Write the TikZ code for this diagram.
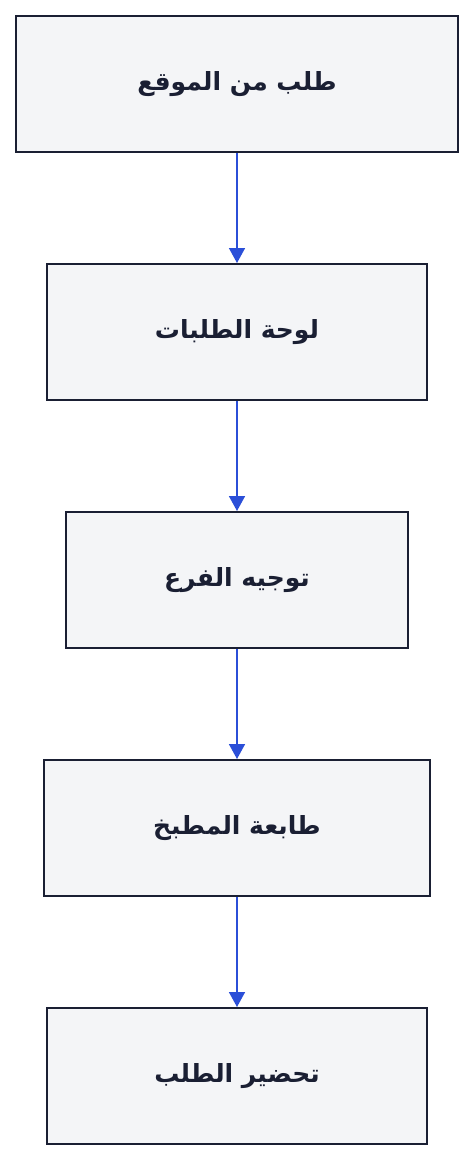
\documentclass[tikz,border=0pt]{standalone}
\usepackage{fontspec}
\TeXXeTstate=1
\newfontfamily\arabicfont[Script=Arabic]{DejaVu Sans}
\usetikzlibrary{arrows.meta}
\definecolor{boxfill}{HTML}{F4F5F7}
\definecolor{boxdraw}{HTML}{1A1F33}
\definecolor{arrowblue}{HTML}{2B4FD8}
\tikzset{
  stepbox/.style={draw=boxdraw, line width=2pt, fill=boxfill, minimum height=136pt, inner sep=0pt,
    font=\arabicfont\bfseries\fontsize{25}{30}\selectfont, text=boxdraw},
  flow/.style={draw=arrowblue, line width=1.6pt, -{Triangle[length=15pt,width=16pt]}}
}
\begin{document}
\begin{tikzpicture}[x=1pt,y=-1pt]
\useasboundingbox[fill=white] (0,0) rectangle (474,1160);
\node[stepbox, minimum width=442pt] (a) at (237,84) {\beginR طلب من الموقع\endR};
\node[stepbox, minimum width=380pt] (b) at (237,332) {\beginR لوحة الطلبات\endR};
\node[stepbox, minimum width=342pt] (c) at (237,580) {\beginR توجيه الفرع\endR};
\node[stepbox, minimum width=386pt] (d) at (237,828) {\beginR طابعة المطبخ\endR};
\node[stepbox, minimum width=380pt] (e) at (237,1076) {\beginR تحضير الطلب\endR};
\draw[flow] (a) -- (b);
\draw[flow] (b) -- (c);
\draw[flow] (c) -- (d);
\draw[flow] (d) -- (e);
\end{tikzpicture}
\end{document}
